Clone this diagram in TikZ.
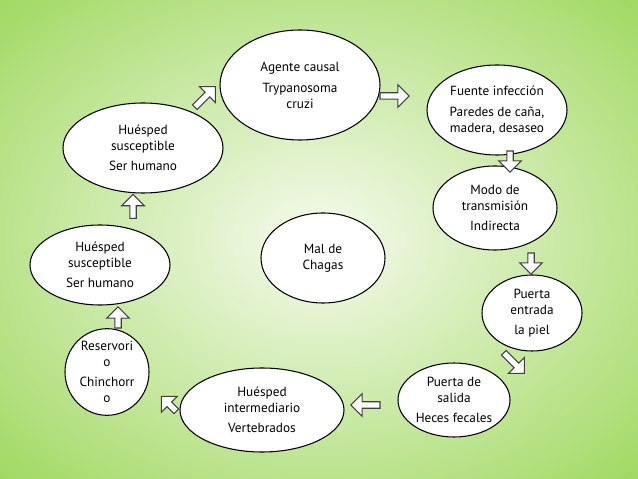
\documentclass[tikz,border=0pt]{standalone}
\usepackage{fontspec}
\setmainfont{PT Sans}
\usetikzlibrary{shapes.arrows,shapes.geometric}
\definecolor{gin}{HTML}{F6FBEE}
\definecolor{gout}{HTML}{9ED85E}
\tikzset{
 ell/.style={ellipse,draw=black,thick,fill=white,inner sep=0pt,align=center,font=\fontsize{10}{12}\selectfont},
 barrow/.style={single arrow,draw=black!75,fill=white,line width=0.8pt,minimum height=22pt,minimum width=17pt,single arrow head extend=3.5pt,inner sep=1pt}
}
\begin{document}
\begin{tikzpicture}[x=0.0265cm,y=-0.0265cm]
\useasboundingbox (0,0) rectangle (638,479);
\shade[inner color=gin,outer color=gout] (-150,-110) rectangle (788,589);
\node[ell,minimum width=160*0.0265cm,minimum height=110*0.0265cm] (a) at (300,85) {Agente causal\\[4pt]Trypanosoma\\cruzi};
\node[ell,minimum width=140*0.0265cm,minimum height=90*0.0265cm] (b) at (497,110) {Fuente infección\\[4pt]Paredes de caña,\\madera, desaseo};
\node[ell,minimum width=124*0.0265cm,minimum height=84*0.0265cm] (c) at (495,208) {Modo de\\transmisión\\[3pt]Indirecta};
\node[ell,minimum width=100*0.0265cm,minimum height=76*0.0265cm] (d) at (532,313) {Puerta\\entrada\\[3pt]la piel};
\node[ell,minimum width=112*0.0265cm,minimum height=74*0.0265cm] (e) at (454,400) {Puerta de\\salida\\[3pt]Heces fecales};
\node[ell,minimum width=164*0.0265cm,minimum height=84*0.0265cm] (f) at (262,410) {Huésped\\intermediario\\[3pt]Vertebrados};
\node[ell,minimum width=84*0.0265cm,minimum height=86*0.0265cm] (g) at (107,372) {Reservori\\o\\[3pt]Chinchorr\\o};
\node[ell,minimum width=140*0.0265cm,minimum height=80*0.0265cm] (h) at (100,265) {Huésped\\susceptible\\[3pt]Ser humano};
\node[ell,minimum width=160*0.0265cm,minimum height=90*0.0265cm] (i) at (143,148) {Huésped\\susceptible\\[3pt]Ser humano};
\node[ell,minimum width=124*0.0265cm,minimum height=90*0.0265cm] (m) at (323,258) {Mal de\\Chagas};
\node[barrow,rotate=45] (ar1) at (204,98) {};
\node[barrow,rotate=0] (ar2) at (393,96) {};
\node[barrow,rotate=-90,minimum height=16pt] (ar3) at (510,160) {};
\node[barrow,rotate=-90,minimum height=16pt] (ar4) at (531,262) {};
\node[barrow,rotate=-45] (ar5) at (513,362) {};
\node[barrow,rotate=180] (ar6) at (367,405) {};
\node[barrow,rotate=135,minimum height=16pt] (ar7) at (170,405) {};
\node[barrow,rotate=90,minimum height=16pt] (ar8) at (118,319) {};
\node[barrow,rotate=90,minimum height=18pt] (ar9) at (133,208) {};
\end{tikzpicture}
\end{document}
